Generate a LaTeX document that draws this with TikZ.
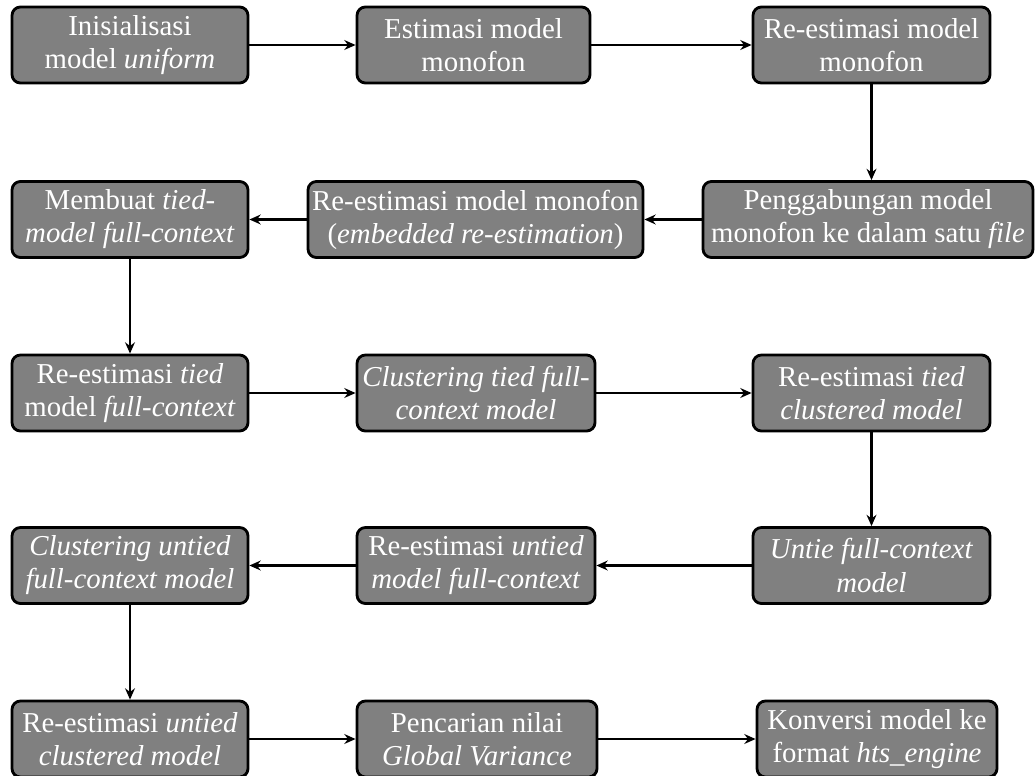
\documentclass[tikz,border=0pt]{standalone}
\usepackage{fontspec}
\setmainfont{Liberation Serif}
\usetikzlibrary{arrows.meta}
\tikzset{
  langkah/.style={draw=black, line width=2pt, fill=black!50,
    rounded corners=6pt, text=white, align=center, minimum height=1.9cm,
    inner sep=1pt, font=\fontsize{20.5}{23.5}\selectfont},
  panah/.style={-{Stealth[length=8pt,width=7pt]}, line width=1.6pt}
}
\begin{document}
\begin{tikzpicture}[x=0.025cm, y=-0.025cm]
  \useasboundingbox (0,0) rectangle (1036,775);
  \foreach \n/\x/\y/\w/\t in {
      A/130/45/236/{Inisialisasi\\model \textit{uniform}},
      B/473.5/45/233/{Estimasi model\\monofon},
      C/871.5/45/237/{Re-estimasi model\\monofon},
      D/868/219.5/330/{Penggabungan model\\monofon ke dalam satu \textit{file}},
      E/475.5/219.5/335/{Re-estimasi model monofon\\(\textit{embedded re-estimation})},
      F/130/219.5/236/{Membuat \textit{tied-}\\\textit{model full-context}},
      G/130/393/236/{Re-estimasi \textit{tied}\\model \textit{full-context}},
      H/476/393/238/{\textit{Clustering tied full-}\\\textit{context model}},
      I/871.5/393/237/{Re-estimasi \textit{tied}\\\textit{clustered model}},
      J/871.5/565.5/237/{\textit{Untie full-context}\\\textit{model}},
      K/476/565.5/238/{Re-estimasi \textit{untied}\\\textit{model full-context}},
      L/130/565.5/236/{\textit{Clustering untied}\\\textit{full-context model}},
      M/130/739/236/{Re-estimasi \textit{untied}\\\textit{clustered model}},
      N/477/739/240/{Pencarian nilai\\\textit{Global Variance}},
      O/877/739/240/{Konversi model ke\\format \textit{hts\_engine}}}{
    \node[langkah, minimum width=\w*0.025cm](\n) at (\x,\y){\t};
  }
  % aliran mendatar
  \foreach \a/\b in {A/B, B/C, D/E, E/F, G/H, H/I, J/K, K/L, M/N, N/O}
    \draw[panah](\a) -- (\b);
  % aliran turun
  \foreach \a/\b in {C/D, F/G, I/J, L/M}
    \draw[panah](\a.south) -- (\a.south |- \b.north);
\end{tikzpicture}
\end{document}
